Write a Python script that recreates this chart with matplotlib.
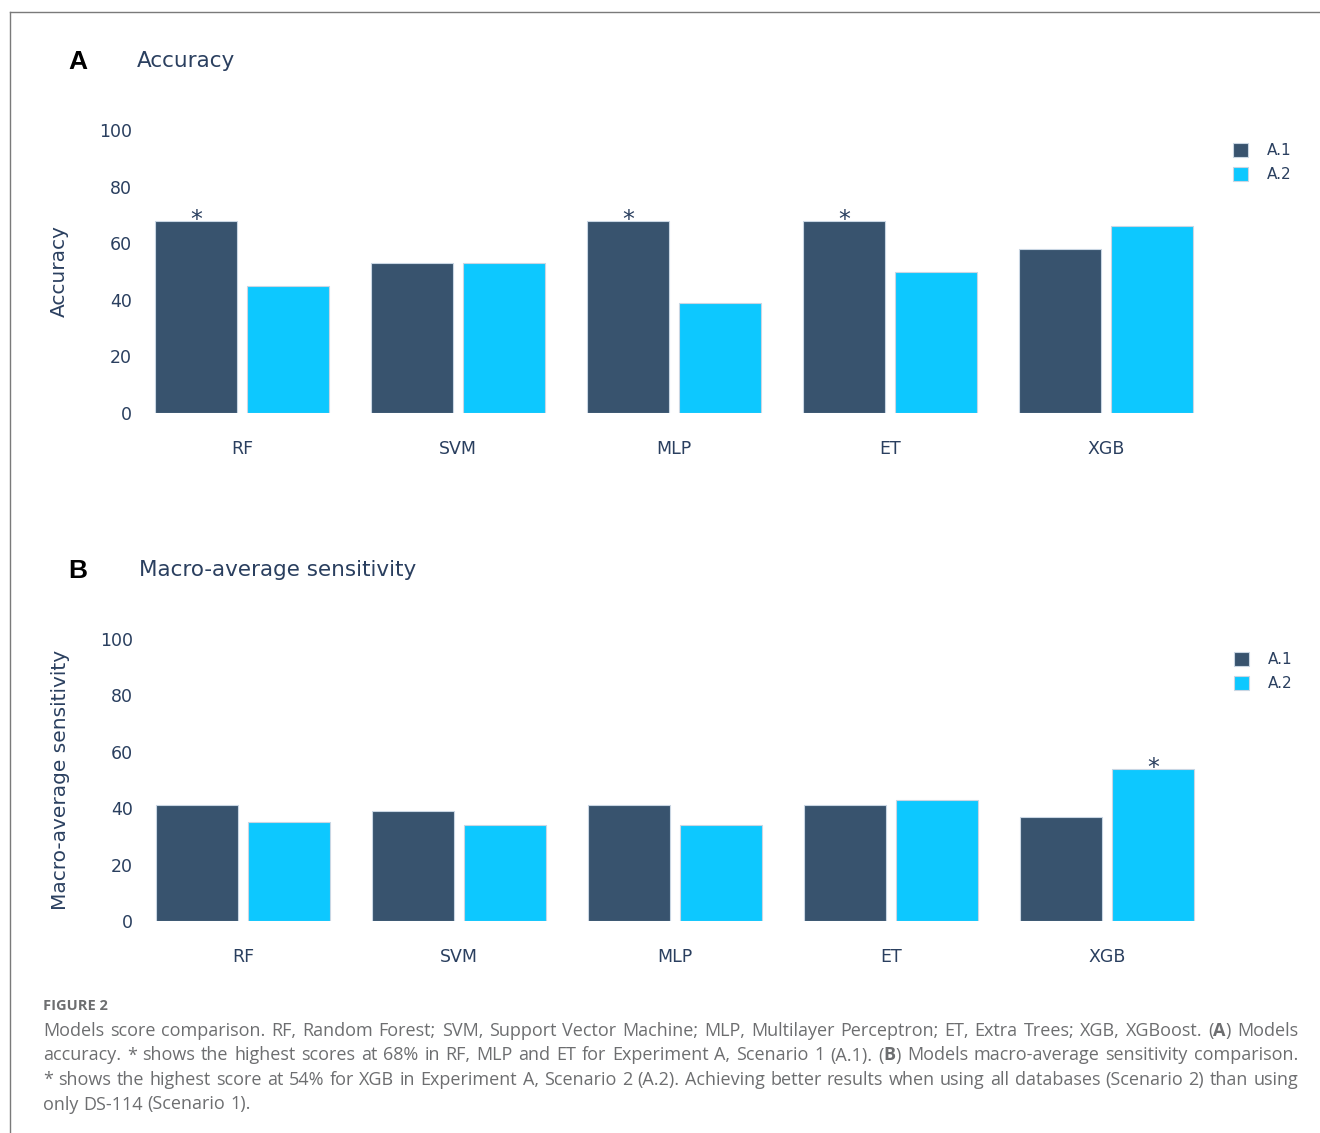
import numpy as np
import matplotlib
matplotlib.use("Agg")
import matplotlib.pyplot as plt
from matplotlib.patches import Patch
from matplotlib.lines import Line2D


models = ["RF", "SVM", "MLP", "ET", "XGB"]
series = ["A.1", "A.2"]

accuracy_a1 = [68, 53, 68, 68, 58]
accuracy_a2 = [45, 53, 39, 50, 66]
accuracy_star_a1 = [True, False, True, True, False]
accuracy_star_a2 = [False, False, False, False, False]

sensitivity_a1 = [41, 39, 41, 41, 37]
sensitivity_a2 = [35, 34, 34, 43, 54]
sensitivity_star_a1 = [False, False, False, False, False]
sensitivity_star_a2 = [False, False, False, False, True]

y_ticks = [0, 20, 40, 60, 80, 100]

caption_head = "FIGURE 2"
caption_lines = [
    "Models score comparison. RF, Random Forest; SVM, Support Vector Machine; "
    "MLP, Multilayer Perceptron; ET, Extra Trees; XGB, XGBoost. (A) Models",
    "accuracy. * shows the highest scores at 68% in RF, MLP and ET for Experiment A, "
    "Scenario 1 (A.1). (B) Models macro-average sensitivity comparison.",
    "* shows the highest score at 54% for XGB in Experiment A, Scenario 2 (A.2). "
    "Achieving better results when using all databases (Scenario 2) than using",
    "only DS-114 (Scenario 1).",
]

W, H = 1320, 1133
DARK = "#38536E"
CYAN = "#0DC8FF"
EDGE = "#c9d6e3"
INK = "#2a3f5f"
GREY = "#6d6e70"

fig = plt.figure(figsize=(W / 100, H / 100), dpi=100)
fig.patch.set_facecolor("white")


def px(x, y):
    return x / W, 1 - y / H


def rect(left, top, right, bottom):
    return [left / W, 1 - bottom / H, (right - left) / W, (bottom - top) / H]


# thin frame along top and left edge
fig.add_artist(Line2D([10 / W, 1], [1 - 12 / H, 1 - 12 / H], color="#7a7a7a", lw=1.0))
fig.add_artist(Line2D([10 / W, 10 / W], [0, 1 - 12 / H], color="#7a7a7a", lw=1.0))


def draw_panel(box, letter, letter_xy, title, title_xy, ylabel, v1, v2, s1, s2, legend_xy):
    ax = fig.add_axes(box)
    x = np.arange(len(models))
    width = 0.384
    off = 0.213
    ax.bar(x - off, v1, width, color=DARK, edgecolor=EDGE, linewidth=0.8, label=series[0])
    ax.bar(x + off, v2, width, color=CYAN, edgecolor=EDGE, linewidth=0.8, label=series[1])
    for xs, vals, stars in ((x - off, v1, s1), (x + off, v2, s2)):
        for xi, v, st in zip(xs, vals, stars):
            if st:
                ax.annotate("*", xy=(xi, v), xytext=(0, -4.5), textcoords="offset points",
                            ha="center", va="baseline", fontsize=17, color=INK)
    ax.set_xlim(-0.5, len(models) - 0.5)
    ax.set_ylim(0, 100)
    ax.set_xticks(x)
    ax.set_xticklabels(models)
    ax.set_yticks(y_ticks)
    ax.tick_params(axis="x", length=0, pad=19.5, labelsize=12.5, labelcolor=INK)
    ax.tick_params(axis="y", length=0, pad=1.5, labelsize=12.5, labelcolor=INK)
    for s in ax.spines.values():
        s.set_visible(False)
    ax.set_ylabel(ylabel, fontsize=14.5, color=INK)
    ax.yaxis.set_label_coords(-0.0602, 0.5)

    lx, ly = letter_xy
    fig.text(*px(lx, ly), letter, fontsize=19, fontweight="bold", family="Liberation Sans",
             color="black", ha="left", va="center")
    tx, ty = title_xy
    fig.text(*px(tx, ty), title, fontsize=15.5, color=INK, ha="left", va="center")

    handles = [Patch(facecolor=DARK, edgecolor=EDGE, linewidth=0.8),
               Patch(facecolor=CYAN, edgecolor=EDGE, linewidth=0.8)]
    fig.legend(handles, series, loc="upper left", bbox_to_anchor=px(*legend_xy),
               frameon=False, fontsize=11, labelcolor=INK, handlelength=1.0,
               handleheight=1.0, handletextpad=1.2, labelspacing=0.6,
               borderpad=0, borderaxespad=0)
    return ax


draw_panel(rect(134, 130, 1214, 413), "A", (68, 62), "Accuracy", (137, 61), "Accuracy",
           accuracy_a1, accuracy_a2, accuracy_star_a1, accuracy_star_a2, (1233, 143))
draw_panel(rect(135, 639, 1215, 921), "B", (68, 571), "Macro-average sensitivity", (139, 570),
           "Macro-average sensitivity",
           sensitivity_a1, sensitivity_a2, sensitivity_star_a1, sensitivity_star_a2, (1234, 652))

# caption block, justified between x=43 and x=1298
fig.text(*px(43, 1006), caption_head, fontsize=10.5, fontweight="bold", family="Open Sans",
         color=GREY, ha="left", va="center")

renderer = fig.canvas.get_renderer()
cap_font = dict(family="Open Sans", color=GREY)
left, right = 43, 1298
baselines = [1036, 1060.5, 1085, 1109.5]


def word_segments(word):
    # "(A)" and "(B)" carry a bold panel letter
    if word in ("(A)", "(B)", "(A).", "(B)."):
        return [("(", "normal"), (word[1], "bold"), (word[2:], "normal")]
    return [(word, "normal")]


def seg_width(text, size, weight):
    t = fig.text(0, 0, text, fontsize=size, fontweight=weight, **cap_font)
    w = t.get_window_extent(renderer).width
    t.remove()
    return w


ref_size = 12.0
space_ref = seg_width("a a", ref_size, "normal") - seg_width("aa", ref_size, "normal")
natural = []
for line in caption_lines:
    words = line.split(" ")
    total = sum(seg_width(t, ref_size, wt) for w in words for t, wt in word_segments(w))
    natural.append(total + space_ref * (len(words) - 1))
size = min(13.0, ref_size * (right - left) / max(natural[:-1]) * 0.99)
scale = size / ref_size

for i, line in enumerate(caption_lines):
    words = line.split(" ")
    widths = [[seg_width(t, size, wt) for t, wt in word_segments(w)] for w in words]
    word_w = [sum(ws) for ws in widths]
    if i < len(caption_lines) - 1:
        gap = (right - left - sum(word_w)) / (len(words) - 1)
    else:
        gap = space_ref * scale
    x = left
    for w, ws in zip(words, widths):
        xx = x
        for (t, wt), sw in zip(word_segments(w), ws):
            fig.text(*px(xx, baselines[i]), t, fontsize=size, fontweight=wt,
                     ha="left", va="baseline", **cap_font)
            xx += sw
        x += sum(ws) + gap

fig.savefig("out.png", dpi=100, facecolor="white")
